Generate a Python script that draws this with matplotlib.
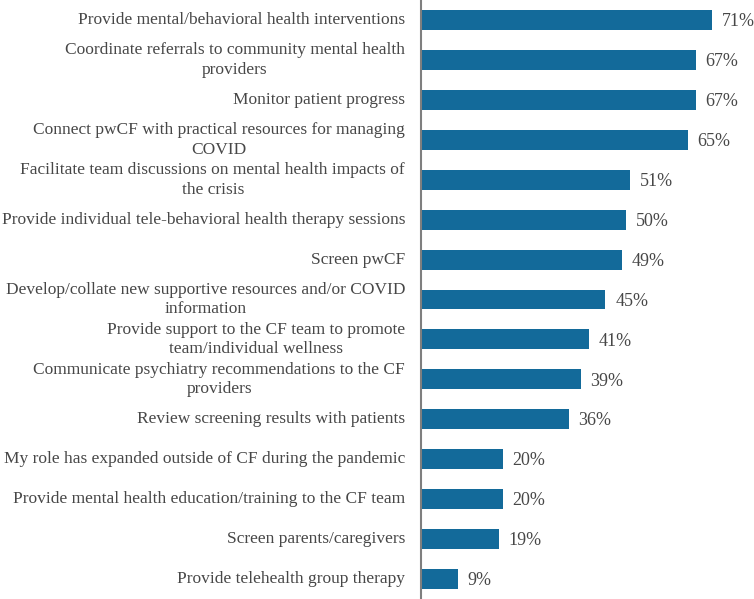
import matplotlib
matplotlib.use("Agg")
import matplotlib.pyplot as plt

categories = [
    "Provide mental/behavioral health interventions",
    "Coordinate referrals to community mental health\nproviders",
    "Monitor patient progress",
    "Connect pwCF with practical resources for managing\nCOVID",
    "Facilitate team discussions on mental health impacts of\nthe crisis",
    "Provide individual tele-behavioral health therapy sessions",
    "Screen pwCF",
    "Develop/collate new supportive resources and/or COVID\ninformation",
    "Provide support to the CF team to promote\nteam/individual wellness",
    "Communicate psychiatry recommendations to the CF\nproviders",
    "Review screening results with patients",
    "My role has expanded outside of CF during the pandemic",
    "Provide mental health education/training to the CF team",
    "Screen parents/caregivers",
    "Provide telehealth group therapy",
]
values = [71, 67, 67, 65, 51, 50, 49, 45, 41, 39, 36, 20, 20, 19, 9]

plt.rcParams['font.family'] = ['Liberation Serif', 'DejaVu Serif']

W, H = 754, 599
fig = plt.figure(figsize=(W / 100, H / 100), dpi=100)
ax = fig.add_axes([421 / W, 0, 1 - 421 / W, 1])

bar_color = "#136a9a"
text_color = "#474747"
fs_lab = 12.5
fs_val = 13.0
y = list(range(len(values)))
ax.barh(y, values, height=0.5, color=bar_color)
ax.set_ylim(len(values) - 0.5, -0.5)
ax.set_xlim(0, (W - 421) / 4.1)

for yi, v in zip(y, values):
    ax.annotate(f"{v}%", xy=(v, yi), xytext=(7, -1.2), textcoords="offset points",
                va="center", ha="left", fontsize=fs_val, color=text_color,
                annotation_clip=False)

for yi, c in zip(y, categories):
    ax.annotate(c, xy=(0, yi), xytext=(-11.5, 0), textcoords="offset points",
                va="center", ha="right", multialignment="center",
                fontsize=fs_lab, color=text_color, linespacing=1.3)

for s in ["top", "right", "bottom"]:
    ax.spines[s].set_visible(False)
ax.spines["left"].set_color("#7f7f7f")
ax.spines["left"].set_linewidth(1.5)
ax.set_xticks([])
ax.set_yticks([])

fig.savefig("out.png", dpi=100)
